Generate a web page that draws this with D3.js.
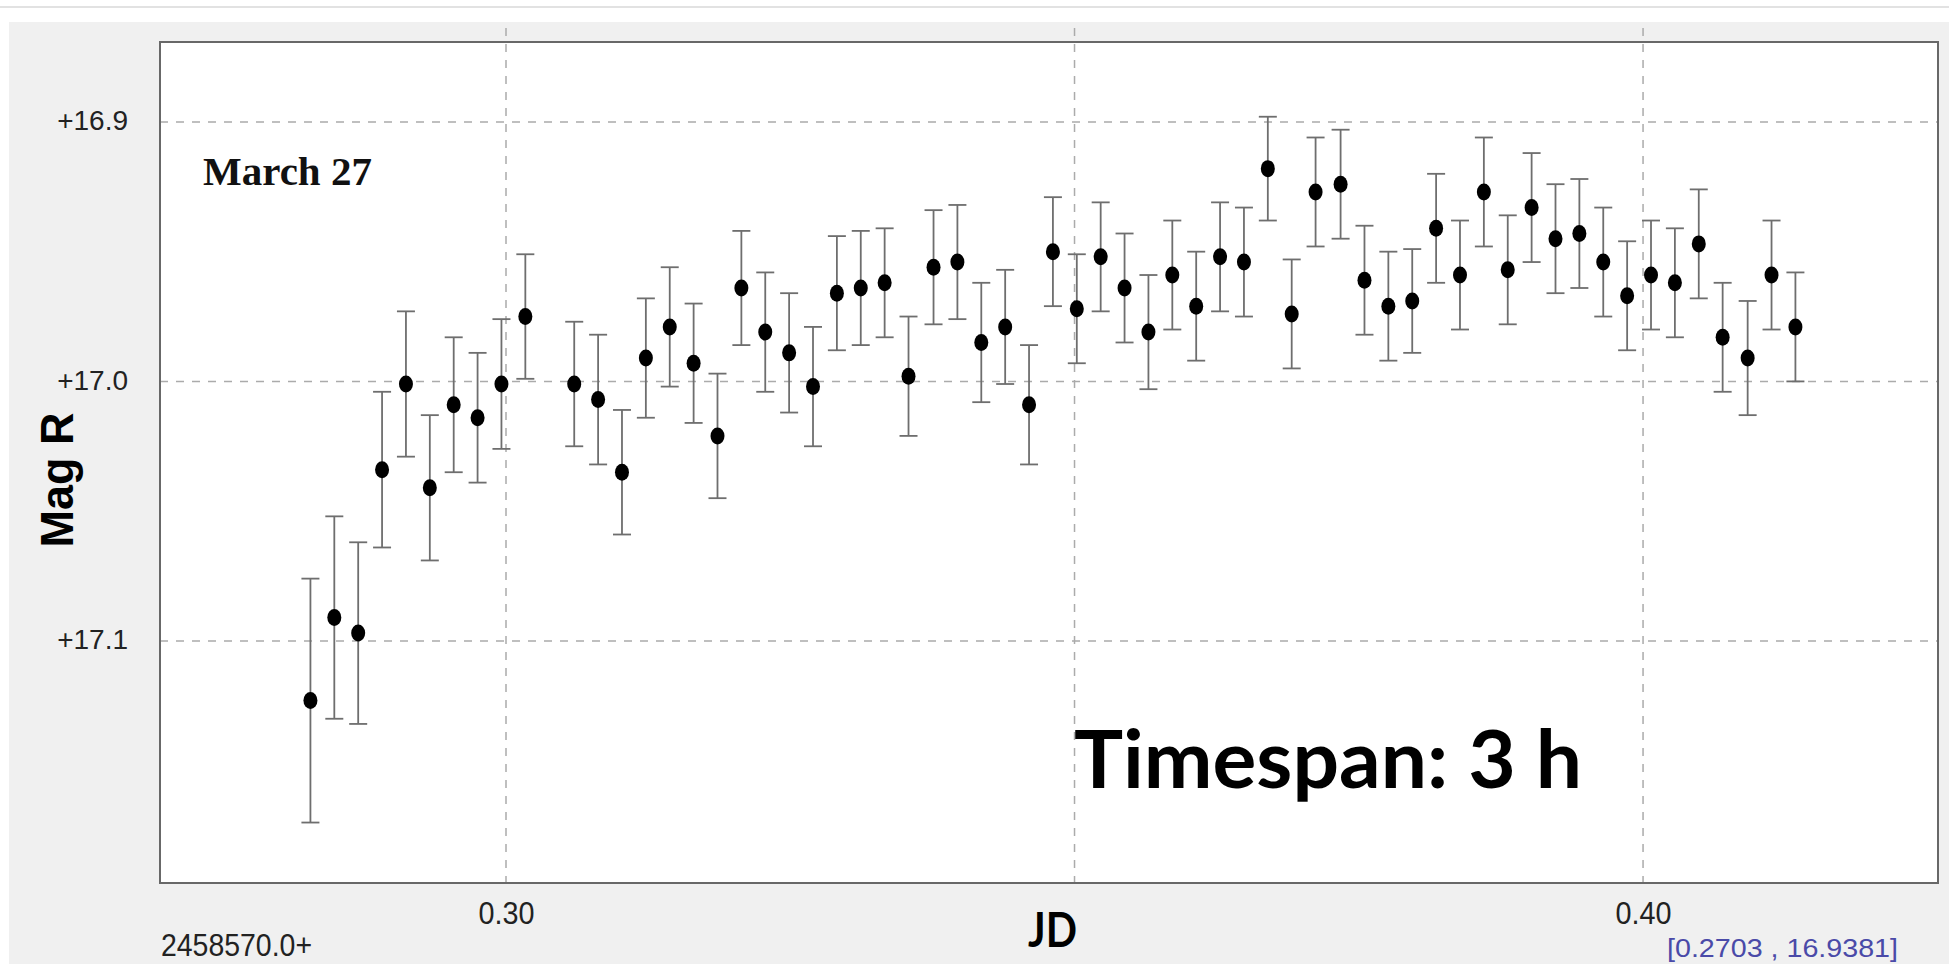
<!DOCTYPE html>
<html>
<head>
<meta charset="utf-8">
<script src="https://cdn.jsdelivr.net/npm/d3@7"></script>
<style>
  body { margin: 0; background: #fff; }
  svg text { font-family: "Liberation Sans", Arial, sans-serif; }
</style>
</head>
<body>
<div id="chart"></div>
<script>
// JD - 2458570.0 for each frame
const jd = [
  0.2828, 0.2849, 0.2870, 0.2891, 0.2912, 0.2933, 0.2954, 0.2975, 0.2996, 0.3017,
  0.3060, 0.3081, 0.3102, 0.3123, 0.3144, 0.3165, 0.3186, 0.3207, 0.3228, 0.3249,
  0.3270, 0.3291, 0.3312, 0.3333, 0.3354, 0.3376, 0.3397, 0.3418, 0.3439, 0.3460,
  0.3481, 0.3502, 0.3523, 0.3544, 0.3565, 0.3586, 0.3607, 0.3628, 0.3649, 0.3670,
  0.3691, 0.3712, 0.3734, 0.3755, 0.3776, 0.3797, 0.3818, 0.3839, 0.3860, 0.3881,
  0.3902, 0.3923, 0.3944, 0.3965, 0.3986, 0.4007, 0.4028, 0.4049, 0.4070, 0.4092,
  0.4113, 0.4134
];
// R magnitude
const mag = [
  17.123, 17.091, 17.097, 17.034, 17.001, 17.041, 17.009, 17.014, 17.001, 16.975,
  17.001, 17.007, 17.035, 16.991, 16.979, 16.993, 17.021, 16.964, 16.981, 16.989,
  17.002, 16.966, 16.964, 16.962, 16.998, 16.956, 16.954, 16.985, 16.979, 17.009,
  16.950, 16.972, 16.952, 16.964, 16.981, 16.959, 16.971, 16.952, 16.954, 16.918,
  16.974, 16.927, 16.924, 16.961, 16.971, 16.969, 16.941, 16.959, 16.927, 16.957,
  16.933, 16.945, 16.943, 16.954, 16.967, 16.959, 16.962, 16.947, 16.983, 16.991,
  16.959, 16.979
];
// 1-sigma errors
const err = [
  0.047, 0.039, 0.035, 0.030, 0.028, 0.028, 0.026, 0.025, 0.025, 0.024,
  0.024, 0.025, 0.024, 0.023, 0.023, 0.023, 0.024, 0.022, 0.023, 0.023,
  0.023, 0.022, 0.022, 0.021, 0.023, 0.022, 0.022, 0.023, 0.022, 0.023,
  0.021, 0.021, 0.021, 0.021, 0.022, 0.021, 0.021, 0.021, 0.021, 0.020,
  0.021, 0.021, 0.021, 0.021, 0.021, 0.020, 0.021, 0.021, 0.021, 0.021,
  0.021, 0.021, 0.021, 0.021, 0.021, 0.021, 0.021, 0.021, 0.021, 0.022,
  0.021, 0.021
];
const xGrid = [0.30, 0.35, 0.40];
const xTicks = [0.30, 0.40]; // 0.35 label is hidden behind "JD"
const yTicks = [16.9, 17.0, 17.1];

const W = 1949, H = 964;
const margin = { top: 42, left: 160 },
  width = 1778,
  height = 841;

const root = d3.select("#chart").append("svg")
  .attr("width", W)
  .attr("height", H);

// window background
root.append("rect").attr("x", 0).attr("y", 6).attr("width", W).attr("height", 2).attr("fill", "#e2e2e2");
root.append("rect").attr("x", 9).attr("y", 22).attr("width", W - 9).attr("height", H - 22).attr("fill", "#f0f0f0");

const svg = root.append("g")
  .attr("transform", `translate(${margin.left}, ${margin.top})`);

const x = d3.scaleLinear().domain([0.26957, 0.42594]).range([0, width]);
const y = d3.scaleLinear().domain([16.8692, 17.1933]).range([0, height]);

svg.append("rect")
  .attr("width", width)
  .attr("height", height)
  .attr("fill", "#fff");

// grid
svg.selectAll(".hgrid").data(yTicks).join("line")
  .attr("x1", 0).attr("x2", width)
  .attr("y1", d => y(d)).attr("y2", d => y(d))
  .attr("stroke", "#ababab").attr("stroke-width", 1.5)
  .attr("stroke-dasharray", "8,8");
svg.selectAll(".vgrid").data(xGrid).join("line")
  .attr("x1", d => x(d)).attr("x2", d => x(d))
  .attr("y1", -14).attr("y2", height)
  .attr("stroke", "#ababab").attr("stroke-width", 1.5)
  .attr("stroke-dasharray", "8,8");

svg.append("rect")
  .attr("width", width)
  .attr("height", height)
  .attr("fill", "none")
  .attr("stroke", "#686868")
  .attr("stroke-width", 2);

// axes
const yAxis = svg.append("g")
  .call(d3.axisLeft(y).tickValues(yTicks).tickFormat(d => "+" + d.toFixed(1)).tickSize(0).tickPadding(32));
yAxis.select(".domain").remove();
yAxis.selectAll("text")
  .style("font-size", "28px")
  .attr("fill", "#222")
  .attr("dy", "0.28em");

const xAxis = svg.append("g")
  .attr("transform", `translate(0, ${height})`)
  .call(d3.axisBottom(x).tickValues(xTicks).tickFormat(d => d.toFixed(2)).tickSize(0).tickPadding(19));
xAxis.select(".domain").remove();
xAxis.selectAll("text")
  .style("font-size", "31px")
  .attr("fill", "#222")
  .attr("textLength", 56)
  .attr("lengthAdjust", "spacingAndGlyphs");

// error bars
const pts = jd.map((d, i) => ({ jd: d, mag: mag[i], err: err[i] }));
const bars = svg.append("g").attr("stroke", "#6e6e6e").attr("stroke-width", 1.8);
bars.selectAll(".eb").data(pts).join("line")
  .attr("x1", d => x(d.jd)).attr("x2", d => x(d.jd))
  .attr("y1", d => y(d.mag - d.err)).attr("y2", d => y(d.mag + d.err));
bars.selectAll(".capT").data(pts).join("line")
  .attr("x1", d => x(d.jd) - 9).attr("x2", d => x(d.jd) + 9)
  .attr("y1", d => y(d.mag - d.err)).attr("y2", d => y(d.mag - d.err));
bars.selectAll(".capB").data(pts).join("line")
  .attr("x1", d => x(d.jd) - 9).attr("x2", d => x(d.jd) + 9)
  .attr("y1", d => y(d.mag + d.err)).attr("y2", d => y(d.mag + d.err));

svg.selectAll(".pt").data(pts).join("ellipse")
  .attr("cx", d => x(d.jd))
  .attr("cy", d => y(d.mag))
  .attr("rx", 7)
  .attr("ry", 8.5)
  .attr("fill", "#000");

// annotations
root.append("text")
  .attr("x", 203).attr("y", 185)
  .style("font-family", "'Liberation Serif', 'Times New Roman', serif")
  .style("font-weight", "bold")
  .style("font-size", "41px")
  .attr("fill", "#111")
  .text("March 27");

root.append("text")
  .attr("x", 1074).attr("y", 788)
  .style("font-family", "Lato, 'Open Sans', sans-serif")
  .style("font-weight", "bold")
  .style("font-size", "80px")
  .attr("textLength", 508)
  .attr("lengthAdjust", "spacingAndGlyphs")
  .text("Timespan: 3 h");

root.append("text")
  .attr("x", 1028).attr("y", 947)
  .style("font-family", "Lato, 'Open Sans', sans-serif")
  .style("font-weight", "bold")
  .style("font-size", "47px")
  .attr("textLength", 49)
  .attr("lengthAdjust", "spacingAndGlyphs")
  .text("JD");

root.append("text")
  .attr("transform", "translate(73, 480) rotate(-90)")
  .attr("text-anchor", "middle")
  .style("font-weight", "bold")
  .style("font-size", "47px")
  .attr("textLength", 135)
  .attr("lengthAdjust", "spacingAndGlyphs")
  .text("Mag R");

root.append("text")
  .attr("x", 161).attr("y", 956)
  .style("font-size", "32px")
  .attr("fill", "#222")
  .attr("textLength", 151)
  .attr("lengthAdjust", "spacingAndGlyphs")
  .text("2458570.0+");

root.append("text")
  .attr("x", 1898).attr("y", 957)
  .attr("text-anchor", "end")
  .style("font-size", "25px")
  .attr("fill", "#4a4aa8")
  .attr("textLength", 231)
  .attr("lengthAdjust", "spacingAndGlyphs")
  .text("[0.2703 , 16.9381]");
</script>
</body>
</html>
